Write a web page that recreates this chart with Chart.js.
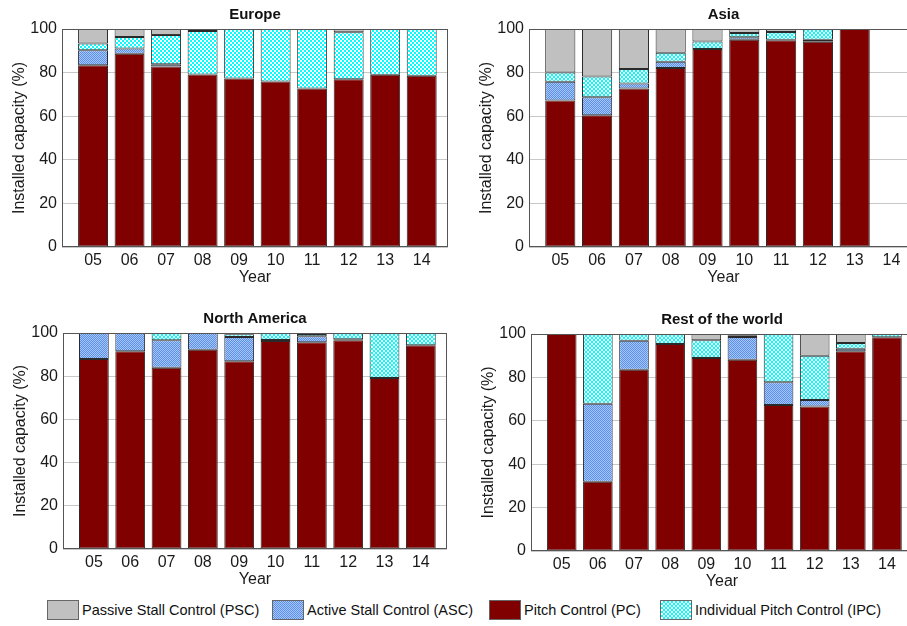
<!DOCTYPE html>
<html>
<head>
<meta charset="utf-8">
<script src="https://cdn.jsdelivr.net/npm/chart.js@4/dist/chart.umd.min.js"></script>
<style>
  html, body { margin: 0; padding: 0; background: #fff; }
  #page { position: relative; width: 907px; height: 626px; overflow: hidden; font-family: Arial, "Liberation Sans", sans-serif; }
  .box { position: absolute; }
  .legend-item { position: absolute; top: 600px; height: 20px; display: flex; align-items: center; font-size: 14.5px; color: #111; white-space: nowrap; }
  .legend-item canvas { border: 1px solid #666; margin-right: 3px; }
</style>
</head>
<body>
<div id="page">
  <div class="box" style="left:0px;top:0px;width:450px;height:287px"><canvas id="europeChart"></canvas></div>
  <div class="box" style="left:467px;top:0px;width:453px;height:287px"><canvas id="asiaChart"></canvas></div>
  <div class="box" style="left:1px;top:304px;width:448px;height:285px"><canvas id="naChart"></canvas></div>
  <div class="box" style="left:469px;top:305px;width:446px;height:286px"><canvas id="rowChart"></canvas></div>
  <div id="legend"></div>
</div>
<script>
const years = ['05', '06', '07', '08', '09', '10', '11', '12', '13', '14'];

// segment sizes (%) per year, stacked PC -> ASC -> IPC -> PSC
const europePC  = [83.4, 88.7, 82.8, 79.1, 77.3, 75.9, 72.7, 77.0, 79.0, 78.5];
const europeASC = [6.8, 2.4, 1.0, 0, 0, 0, 0, 0, 0, 0];
const europeIPC = [3.1, 5.2, 13.4, 20.0, 22.7, 24.1, 27.3, 21.5, 21.0, 21.5];
const europePSC = [6.7, 3.7, 2.8, 0.9, 0, 0, 0, 1.5, 0, 0];

const asiaPC  = [67.2, 60.4, 72.7, 82.1, 90.8, 95.1, 94.8, 94.2, 100, 0];
const asiaASC = [8.6, 8.3, 2.3, 2.9, 0, 1.1, 0.3, 0.9, 0, 0];
const asiaIPC = [4.3, 9.5, 6.6, 4.1, 3.5, 2.0, 3.5, 4.9, 0, 0];
const asiaPSC = [19.9, 21.8, 18.4, 10.9, 5.7, 1.8, 1.4, 0, 0, 0];

const naPC  = [88.0, 91.5, 83.9, 92.3, 86.9, 96.3, 95.7, 96.6, 79.2, 94.3];
const naASC = [12.0, 8.5, 12.7, 7.7, 11.2, 0.5, 2.8, 0.5, 0, 0];
const naIPC = [0, 0, 3.4, 0, 1.3, 3.2, 1.0, 2.9, 20.8, 5.7];
const naPSC = [0, 0, 0, 0, 0.6, 0, 0.5, 0, 0, 0];

const rowPC  = [100, 31.9, 83.5, 95.4, 88.9, 88.1, 67.3, 66.6, 92.0, 98.5];
const rowASC = [0, 35.9, 13.4, 0, 0, 10.5, 10.5, 3.0, 1.2, 0];
const rowIPC = [0, 32.2, 3.1, 4.6, 8.2, 0.8, 22.2, 20.4, 2.6, 1.5];
const rowPSC = [0, 0, 0, 0, 2.9, 0.6, 0, 10.0, 4.2, 0];

const yTicks = [0, 20, 40, 60, 80, 100];

const FONT = 'Arial, "Liberation Sans", sans-serif';

function makePattern(bg, fg, cell) {
    const c = document.createElement('canvas');
    c.width = c.height = cell * 2;
    const g = c.getContext('2d');
    g.fillStyle = bg;
    g.fillRect(0, 0, cell * 2, cell * 2);
    g.fillStyle = fg;
    g.fillRect(0, 0, cell, cell);
    g.fillRect(cell, cell, cell, cell);
    return g.createPattern(c, 'repeat');
}

const colors = {
    PSC: '#c0c0c0',
    ASC: makePattern('#a6c8ff', '#5b8fe6', 1),
    PC: '#800000',
    IPC: makePattern('#00ffff', '#ffffff', 2)
};

const framePlugin = {
    id: 'frame',
    afterDraw(chart) {
        const a = chart.chartArea;
        const ctx = chart.ctx;
        ctx.save();
        ctx.strokeStyle = '#555';
        ctx.lineWidth = 1;
        ctx.strokeRect(a.left + 0.5, a.top + 0.5, a.right - a.left - 1, a.bottom - a.top - 1);
        ctx.restore();
    }
};

function segment(label, values, color) {
    return {
        label: label,
        data: values.map((v, i) => ({ x: i, y: v })),
        backgroundColor: color,
        borderColor: '#2a2a2a',
        borderWidth: 1,
        borderSkipped: false,
        barPercentage: 0.82,
        categoryPercentage: 1
    };
}

function createRegionChart(canvasId, title, pc, asc, ipc, psc) {
    const ctx = document.getElementById(canvasId).getContext('2d');
    return new Chart(ctx, {
        type: 'bar',
        data: {
            datasets: [
                segment('Pitch Control (PC)', pc, colors.PC),
                segment('Active Stall Control (ASC)', asc, colors.ASC),
                segment('Individual Pitch Control (IPC)', ipc, colors.IPC),
                segment('Passive Stall Control (PSC)', psc, colors.PSC)
            ]
        },
        options: {
            responsive: true,
            maintainAspectRatio: false,
            animation: false,
            devicePixelRatio: 1,
            layout: { padding: { left: 0, right: 2, top: 0, bottom: 0 } },
            plugins: {
                legend: { display: false },
                tooltip: { enabled: false },
                title: {
                    display: true,
                    text: title,
                    fullSize: false,
                    color: '#111',
                    font: { family: FONT, size: 15, weight: 'bold' },
                    padding: { top: 6, bottom: 5 }
                }
            },
            scales: {
                x: {
                    type: 'linear',
                    stacked: true,
                    offset: false,
                    min: -0.85,
                    max: 9.72,
                    afterBuildTicks: scale => {
                        scale.ticks = years.map((_, i) => ({ value: i }));
                    },
                    afterFit: scale => { scale.height = 40; },
                    grid: { display: false, drawTicks: false },
                    border: { display: false },
                    ticks: {
                        padding: 4,
                        color: '#1a1a1a',
                        font: { family: FONT, size: 16 },
                        callback: value => years[value]
                    },
                    title: {
                        display: true,
                        text: 'Year',
                        color: '#1a1a1a',
                        font: { family: FONT, size: 16 },
                        padding: { top: 0, bottom: 0 }
                    }
                },
                y: {
                    stacked: true,
                    min: 0,
                    max: 100,
                    afterBuildTicks: scale => {
                        scale.ticks = yTicks.map(v => ({ value: v }));
                    },
                    afterFit: scale => { scale.width = 62; },
                    grid: { color: '#c8c8c8', drawTicks: false },
                    border: { display: false },
                    ticks: {
                        padding: 5,
                        color: '#1a1a1a',
                        font: { family: FONT, size: 16 }
                    },
                    title: {
                        display: true,
                        text: 'Installed capacity (%)',
                        color: '#1a1a1a',
                        font: { family: FONT, size: 16 },
                        padding: { top: 10, bottom: 0 }
                    }
                }
            }
        },
        plugins: [framePlugin]
    });
}

createRegionChart('europeChart', 'Europe', europePC, europeASC, europeIPC, europePSC);
createRegionChart('asiaChart', 'Asia', asiaPC, asiaASC, asiaIPC, asiaPSC);
createRegionChart('naChart', 'North America', naPC, naASC, naIPC, naPSC);
createRegionChart('rowChart', 'Rest of the world', rowPC, rowASC, rowIPC, rowPSC);

// shared legend
const legendItems = [
    { label: 'Passive Stall Control (PSC)', color: colors.PSC, left: 47 },
    { label: 'Active Stall Control (ASC)', color: colors.ASC, left: 272 },
    { label: 'Pitch Control (PC)', color: colors.PC, left: 489 },
    { label: 'Individual Pitch Control (IPC)', color: colors.IPC, left: 660 }
];
const legendEl = document.getElementById('legend');
legendItems.forEach(item => {
    const div = document.createElement('div');
    div.className = 'legend-item';
    div.style.left = item.left + 'px';
    const sw = document.createElement('canvas');
    sw.width = 30;
    sw.height = 18;
    const g = sw.getContext('2d');
    g.fillStyle = item.color;
    g.fillRect(0, 0, 30, 18);
    div.appendChild(sw);
    const span = document.createElement('span');
    span.textContent = item.label;
    div.appendChild(span);
    legendEl.appendChild(div);
});
</script>
</body>
</html>
